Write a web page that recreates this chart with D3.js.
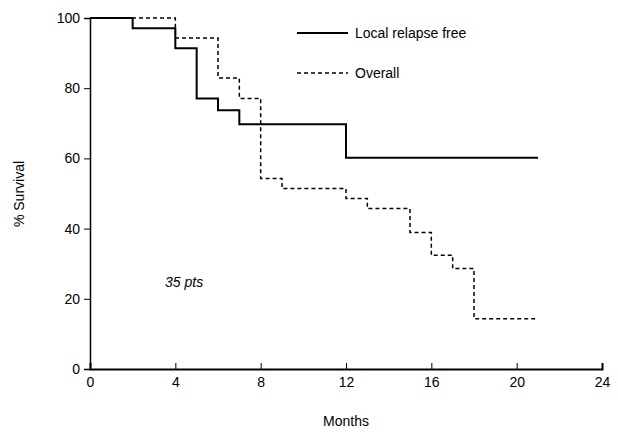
<!DOCTYPE html>
<html><head><meta charset="utf-8">
<script src="https://cdn.jsdelivr.net/npm/d3@7"></script>
<style>body{margin:0;background:#fff}text{font-family:"Liberation Sans",Arial,sans-serif;fill:#000}</style>
</head><body><svg id="c" width="618" height="434"></svg>
<script>
// step data: [month, % survival]
const localFree = [[0,100],[2,97.1],[4,91.4],[5,77.1],[6,73.7],[7,69.7],[12,60.2],[21,60.2]];
const overall = [[0,100],[4,94.3],[6,82.9],[7,77.1],[8,54.3],[9,51.4],[12,48.6],[13,45.7],[15,38.9],[16,32.4],[17,28.6],[18,14.3],[21,14.3]];
const xTicks = [0,4,8,12,16,20,24];
const yTicks = [0,20,40,60,80,100];

const svg = d3.select("#c");
const x = d3.scaleLinear().domain([0,24]).range([90,602]);
const y = d3.scaleLinear().domain([0,100]).range([369,18]);

svg.append("g").attr("transform","translate(0,369)")
  .call(d3.axisBottom(x).tickValues(xTicks).tickSize(-6).tickPadding(8))
  .call(g => { g.select(".domain").attr("stroke-width",2); g.selectAll("text").style("font-size","14px"); });
svg.append("g").attr("transform","translate(90,0)")
  .call(d3.axisLeft(y).tickValues(yTicks).tickSize(6).tickPadding(4))
  .call(g => { g.select(".domain").attr("stroke-width",1.5); g.selectAll("text").style("font-size","14px"); });

const line = d3.line().x(d => x(d[0])).y(d => y(d[1])).curve(d3.curveStepAfter);
svg.append("path").datum(localFree).attr("d", line).attr("fill","none").attr("stroke","#000").attr("stroke-width",2);
svg.append("path").datum(overall).attr("d", line).attr("fill","none").attr("stroke","#000").attr("stroke-width",1.5).attr("stroke-dasharray","4,3");

svg.append("text").attr("x",346).attr("y",426).attr("text-anchor","middle").style("font-size","14px").text("Months");
svg.append("text").attr("transform","translate(24,194) rotate(-90)").attr("text-anchor","middle").style("font-size","14px").text("% Survival");
svg.append("text").attr("x",165).attr("y",287).style("font-size","14px").style("font-style","italic").text("35 pts");

svg.append("line").attr("x1",297).attr("x2",348).attr("y1",33).attr("y2",33).attr("stroke","#000").attr("stroke-width",2);
svg.append("text").attr("x",355).attr("y",38).style("font-size","14px").text("Local relapse free");
svg.append("line").attr("x1",297).attr("x2",348).attr("y1",73).attr("y2",73).attr("stroke","#000").attr("stroke-width",1.5).attr("stroke-dasharray","4,3");
svg.append("text").attr("x",355).attr("y",78).style("font-size","14px").text("Overall");
</script></body></html>
